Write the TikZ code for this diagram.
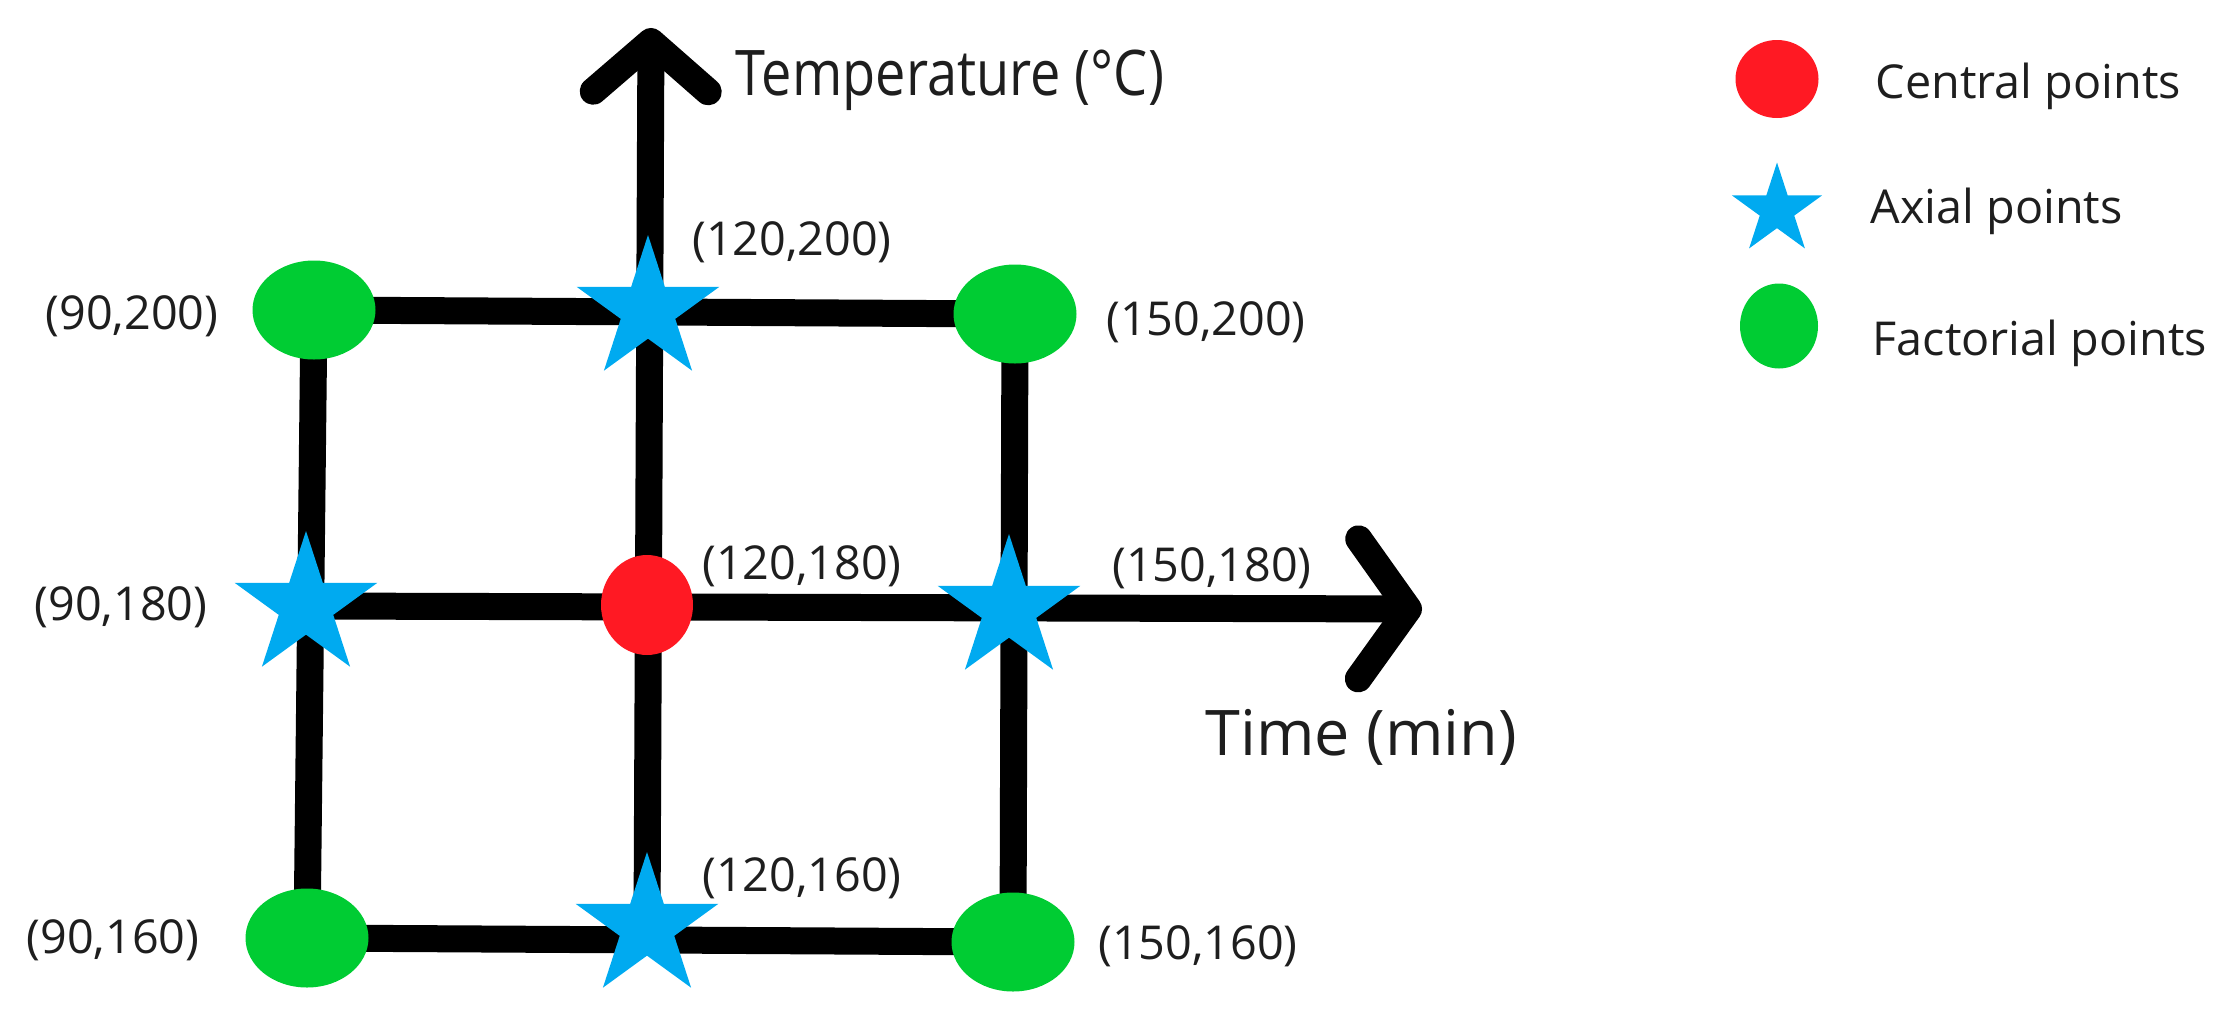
\documentclass[tikz,border=0pt]{standalone}
\usepackage{fontspec}
\setmainfont{Open Sans}
\usepackage{tikz}
\usetikzlibrary{arrows.meta, shapes.geometric, backgrounds}

\definecolor{ptred}{RGB}{255,25,35}
\definecolor{ptgreen}{RGB}{0,204,51}
\definecolor{ptblue}{RGB}{0,170,240}
\definecolor{txt}{RGB}{30,30,30}

\begin{document}
\begin{tikzpicture}[x=0.1mm, y=-0.1mm]
\tikzstyle{fact}=[ellipse, fill=ptgreen, inner sep=0pt, minimum width=12.3mm, minimum height=9.9mm]
\tikzstyle{cent}=[ellipse, fill=ptred, inner sep=0pt, minimum width=9.2mm, minimum height=10mm]
\tikzstyle{axial}=[star, star points=5, star point ratio=2.618, fill=ptblue, inner sep=0pt, minimum size=15mm]
\tikzstyle{connect}=[-, line width=2.7mm]
\tikzstyle{coord}=[text=txt, font=\fontsize{13.3}{15}\selectfont, inner sep=0pt]
\tikzstyle{axlab}=[text=txt, font=\fontsize{17.9}{20}\selectfont, inner sep=0pt, anchor=base west]
\tikzstyle{leg}=[text=txt, font=\fontsize{13.3}{16}\selectfont, inner sep=0pt, anchor=base west]
\useasboundingbox (0,0) rectangle (2237,1012);

% design points
\node[fact] (f1) at (314,310) {};
\node[axial] (a1) at (648,310) {};
\node[fact] (f2) at (1015,314) {};
\node[axial] (a2) at (306,606) {};
\node[cent] (c1) at (647,605) {};
\node[axial] (a3) at (1009,609) {};
\node[fact] (f3) at (307,938) {};
\node[axial] (a4) at (647,927) {};
\node[fact] (f4) at (1013,942) {};
\coordinate (tx) at (1422,609);
\coordinate (ty) at (651,28);

% grid and axes
\begin{scope}[on background layer]
\draw[connect] (f1.center) -- (f2.center);
\draw[connect] (f3.center) -- (f4.center);
\draw[connect] (f1.center) -- (f3.center);
\draw[connect] (f2.center) -- (f4.center);
\draw[connect, -{Straight Barb[length=5mm, width=14mm, round]}] (a2.center) -- (tx);
\draw[connect, -{Straight Barb[length=5mm, width=11.5mm, round]}] (a4.center) -- (ty);
\end{scope}

% labels
\node[coord] (l1) at (132,316) {(90,200)};
\node[coord] (l2) at (792,242) {(120,200)};
\node[coord] (l3) at (1206,322) {(150,200)};
\node[coord] (l4) at (121,607) {(90,180)};
\node[coord] (l5) at (802,566) {(120,180)};
\node[coord] (l6) at (1212,568) {(150,180)};
\node[coord] (l7) at (113,940) {(90,160)};
\node[coord] (l8) at (802,878) {(120,160)};
\node[coord] (l9) at (1198,946) {(150,160)};
\node[axlab] (ylab) at (735,95) {\scalebox{0.86}[1]{Temperature (°C)}};
\node[axlab] (xlab) at (1205,755) {Time (min)};

% legend
\node[cent, minimum width=8.3mm, minimum height=7.8mm] (kc) at (1777,79) {};
\node[axial, minimum size=9.5mm] (ka) at (1777,210) {};
\node[fact, minimum width=7.8mm, minimum height=8.5mm] (kf) at (1779,326) {};
\node[leg] (tc) at (1875,98) {Central points};
\node[leg] (ta) at (1870,223) {Axial points};
\node[leg] (tf) at (1872,355) {Factorial points};
\end{tikzpicture}
\end{document}
